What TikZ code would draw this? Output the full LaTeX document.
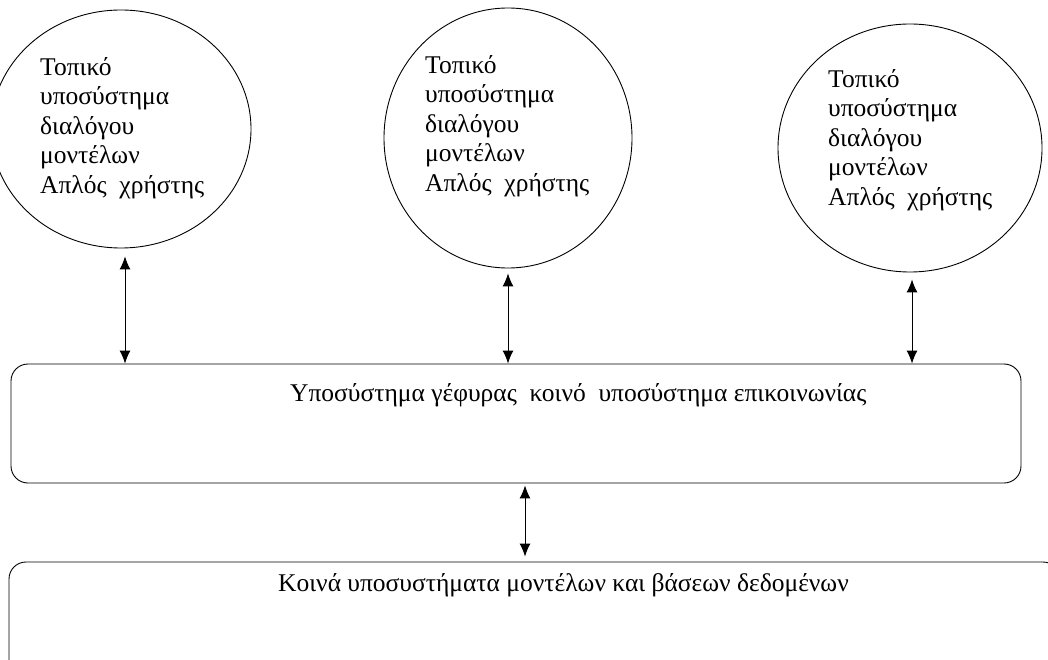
\documentclass[tikz,border=0pt]{standalone}
\usepackage{fontspec}
\setmainfont{Liberation Serif}
\usetikzlibrary{shapes.geometric,arrows.meta}
\tikzset{
	bubble/.style = {draw, ellipse, line width = 0.9pt, inner sep = 0pt},
	bubbletext/.style = {align = left, inner sep = 0pt, font = \fontsize{25.5}{29.5}\selectfont},
	panel/.style = {draw, rounded corners = 17pt, line width = 0.9pt, inner sep = 0pt},
	paneltext/.style = {inner sep = 0pt, font = \fontsize{25.5}{29.5}\selectfont},
	link/.style = {{Latex[length = 13pt, width = 11pt]}-{Latex[length = 13pt, width = 11pt]}, line width = 1pt}
}
\begin{document}
\begin{tikzpicture}[x = 1pt, y = -1pt]
				\useasboundingbox (0,0) rectangle (1048,660);
				\clip (0,0) rectangle (1048,660);
				
				\foreach \n/\x/\y/\w/\h/\tx/\ty in {1/121/129/260/238/40/57, 2/508/138/248/260/425/55, 3/910/148/264/248/828/69} {
					\node[bubble, minimum width = \w pt, minimum height = \h pt] (c\n) at (\x,\y) {};
					\node[bubbletext, anchor = north west] (t\n) at (\tx,\ty) {Τοπικό\\υποσύστημα\\διαλόγου\\μοντέλων\\Απλός\ \ χρήστης};
				}
				
				\node[panel, minimum width = 1010pt, minimum height = 119pt] (bridge) at (516,423.5) {};
				\node[panel, minimum width = 1051pt, minimum height = 138pt] (common) at (534.5,631) {};
				
				\node[paneltext, anchor = west] (bridgetext) at (290,395) {Υποσύστημα γέφυρας\ \ κοινό\ \ υποσύστημα επικοινωνίας};
				\node[paneltext, anchor = west] (commontext) at (278,585) {Κοινά υποσυστήματα μοντέλων και βάσεων δεδομένων};
				
				\draw[link, shorten < = 8pt] ([xshift = 4pt]c1.south) -- ([xshift = 4pt]c1.south |- bridge.north);
				\draw[link, shorten < = 5pt] (c2.south) -- (c2.south |- bridge.north);
				\draw[link, shorten < = 7pt] ([xshift = 2pt]c3.south) -- ([xshift = 2pt]c3.south |- bridge.north);
				\draw[link, shorten < = 2pt, shorten > = 5pt] ([xshift = 9pt]bridge.south) -- ([xshift = 9pt]bridge.south |- common.north);
			\end{tikzpicture}
\end{document}
